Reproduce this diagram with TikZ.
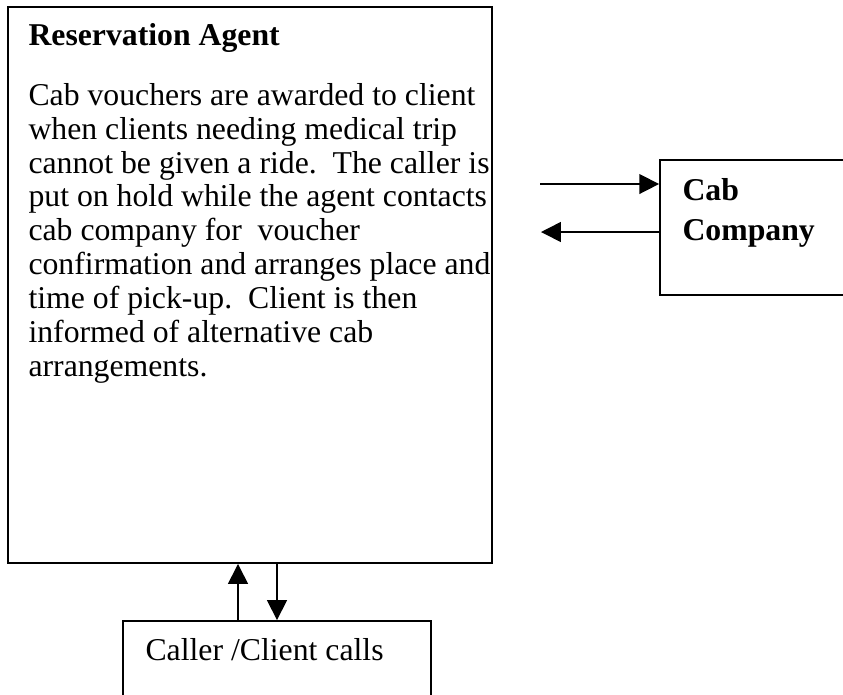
\documentclass[tikz,border=0pt]{standalone}
\usepackage{fontspec}
\setmainfont{Liberation Serif}
\usetikzlibrary{arrows.meta,positioning}

\tikzset{
  box/.style={draw, line width=.7pt, rectangle, inner sep=0pt},
  lbl/.style={inner sep=0pt, anchor=base west, font=\fontsize{12}{13.8}\selectfont},
  arr/.style={line width=.6pt, -{Triangle[length=7.5pt,width=7.5pt]}},
}

\begin{document}
\begin{tikzpicture}[x=0.378pt, y=-0.378pt]
\useasboundingbox (0,0) rectangle (843,694);
\clip (0,0) rectangle (843,694);

% boxes
\node[box, minimum width=183pt, minimum height=210.2pt] (agent) at (250,285) {};
\node[box, minimum width=90.7pt, minimum height=51pt] (cab) at (780,227.5) {};
\node[box, minimum width=116.4pt, minimum height=45pt] (caller) at (277,680.5) {};

% agent texts (base = last line)
\node[lbl, font=\fontsize{12}{13.8}\selectfont\bfseries] (agenttitle) at (28,45) {Reservation Agent};
\node[lbl, align=left, font=\fontsize{12}{12.78}\selectfont] (agenttext) at (28,376) {Cab vouchers are awarded to client\\
when clients needing medical trip\\
cannot be given a ride.\ \ The caller is\\
put on hold while the agent contacts\\
cab company for\ \ voucher\\
confirmation and arranges place and\\
time of pick-up.\ \ Client is then\\
informed of alternative cab\\
arrangements.};

% cab + caller texts
\node[lbl, font=\fontsize{12}{13.8}\selectfont\bfseries, align=left] (cabtext) at (682,240) {Cab\\[1pt]Company};
\node[lbl] (callertext) at (145,660) {Caller /Client calls};

% ... to / from cab company
\coordinate (cabin) at (540,184);
\coordinate (cabout) at (541,232);
\draw[arr] (cabin) -- (cabin -| cab.west);
\draw[arr] (cabout -| cab.west) -- (cabout);

% ... caller <-> agent
\coordinate (upline) at (238,0);
\coordinate (downline) at (277,0);
\draw[arr] (upline |- caller.north) -- (upline |- agent.south);
\draw[arr] (downline |- agent.south) -- (downline |- caller.north);

\end{tikzpicture}
\end{document}
